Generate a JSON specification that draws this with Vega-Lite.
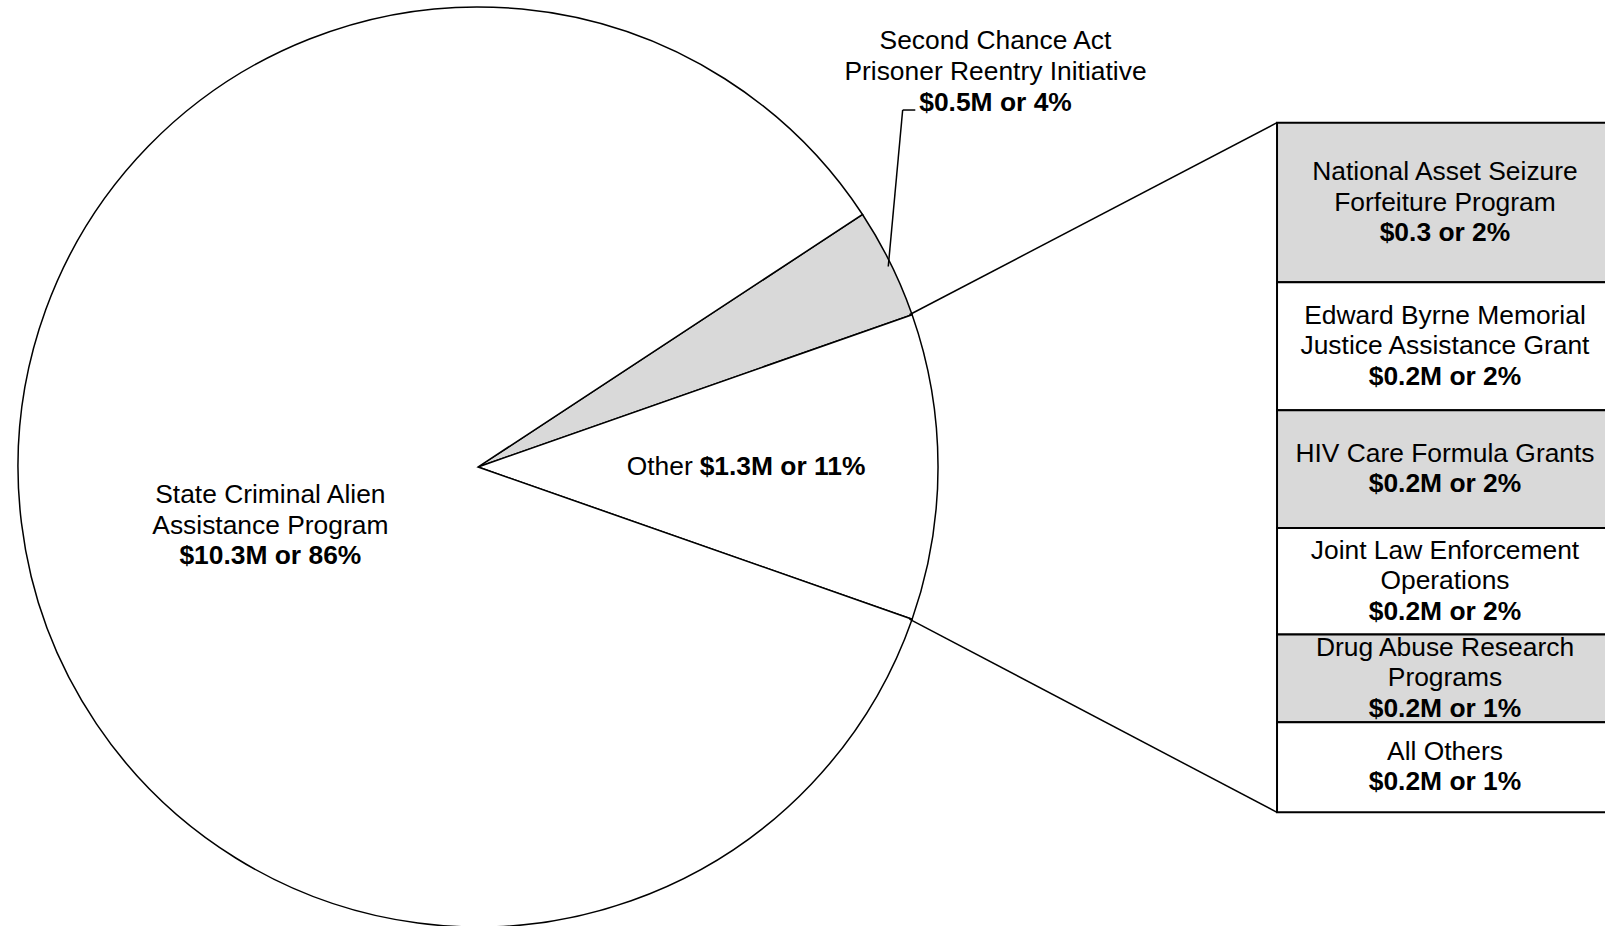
{
  "$schema": "https://vega.github.io/schema/vega-lite/v6.json",
  "width": 1605,
  "height": 926,
  "padding": 0,
  "autosize": {"type": "none"},
  "background": "white",
  "config": {
    "view": {"stroke": null},
    "text": {"font": "Liberation Sans", "fontSize": 26.4, "lineHeight": 30.4, "color": "black"}
  },
  "datasets": {
    "pie": [
      {"rank": 1, "name": "Second Chance Act Prisoner Reentry Initiative", "value": 0.47, "label": "Second Chance Act\nPrisoner Reentry Initiative", "amount": "$0.5M or 4%"},
      {"rank": 2, "name": "Other", "value": 1.3, "label": "Other", "amount": "$1.3M or 11%"},
      {"rank": 3, "name": "State Criminal Alien Assistance Program", "value": 10.34, "label": "State Criminal Alien\nAssistance Program", "amount": "$10.3M or 86%"}
    ],
    "bar": [
      {"rank": 1, "name": "National Asset Seizure Forfeiture Program", "value": 0.301, "label": "National Asset Seizure\nForfeiture Program", "amount": "$0.3 or 2%"},
      {"rank": 2, "name": "Edward Byrne Memorial Justice Assistance Grant", "value": 0.241, "label": "Edward Byrne Memorial\nJustice Assistance Grant", "amount": "$0.2M or 2%"},
      {"rank": 3, "name": "HIV Care Formula Grants", "value": 0.222, "label": "HIV Care Formula Grants", "amount": "$0.2M or 2%"},
      {"rank": 4, "name": "Joint Law Enforcement Operations", "value": 0.201, "label": "Joint Law Enforcement\nOperations", "amount": "$0.2M or 2%"},
      {"rank": 5, "name": "Drug Abuse Research Programs", "value": 0.165, "label": "Drug Abuse Research\nPrograms", "amount": "$0.2M or 1%"},
      {"rank": 6, "name": "All Others", "value": 0.170, "label": "All Others", "amount": "$0.2M or 1%"}
    ]
  },
  "layer": [
    {
      "data": {"name": "pie"},
      "transform": [{"stack": "value", "groupby": [], "sort": [{"field": "rank", "order": "ascending"}], "as": ["t0", "t1"]}],
      "mark": {"type": "arc", "radius": 460, "stroke": "black", "strokeWidth": 1.5},
      "encoding": {
        "x": {"datum": 476, "type": "quantitative", "stack": null, "scale": {"domain": [0, 1605], "nice": false, "zero": false}, "axis": null},
        "y": {"datum": 0.651, "type": "quantitative", "stack": null, "scale": {"domain": [-0.2143, 1.5313], "nice": false, "zero": false}, "axis": null},
        "theta": {"field": "t0", "type": "quantitative", "scale": {"domain": [0, 12.11], "range": [0.9897, 7.27289], "nice": false}},
        "theta2": {"field": "t1"},
        "color": {
          "field": "name", "type": "nominal", "legend": null,
          "scale": {
            "domain": ["Second Chance Act Prisoner Reentry Initiative", "Other", "State Criminal Alien Assistance Program", "National Asset Seizure Forfeiture Program", "Edward Byrne Memorial Justice Assistance Grant", "HIV Care Formula Grants", "Joint Law Enforcement Operations", "Drug Abuse Research Programs", "All Others"],
            "range": ["#d9d9d9", "#ffffff", "#ffffff", "#d9d9d9", "#ffffff", "#d9d9d9", "#ffffff", "#d9d9d9", "#ffffff"]
          }
        }
      }
    },
    {
      "data": {"name": "bar"},
      "mark": {"type": "bar", "orient": "vertical", "stroke": "black", "strokeWidth": 2},
      "encoding": {
        "x": {"datum": 1280, "type": "quantitative", "scale": {"domain": [0, 1605], "nice": false, "zero": false}, "axis": null},
        "x2": {"datum": 1620},
        "y": {"field": "value", "type": "quantitative", "stack": "zero", "scale": {"domain": [-0.2143, 1.5313], "nice": false, "zero": false}, "axis": null},
        "order": {"field": "rank", "sort": "descending"},
        "color": {
          "field": "name", "type": "nominal", "legend": null,
          "scale": {
            "domain": ["Second Chance Act Prisoner Reentry Initiative", "Other", "State Criminal Alien Assistance Program", "National Asset Seizure Forfeiture Program", "Edward Byrne Memorial Justice Assistance Grant", "HIV Care Formula Grants", "Joint Law Enforcement Operations", "Drug Abuse Research Programs", "All Others"],
            "range": ["#d9d9d9", "#ffffff", "#ffffff", "#d9d9d9", "#ffffff", "#d9d9d9", "#ffffff", "#d9d9d9", "#ffffff"]
          }
        }
      }
    },
    {
      "data": {"name": "pie"},
      "transform": [{"filter": "datum.rank == 2"}],
      "mark": {"type": "rule", "stroke": "black", "strokeWidth": 1.5},
      "encoding": {
        "x": {"datum": 910.1, "type": "quantitative", "axis": null},
        "y": {"datum": 0.9379, "type": "quantitative", "axis": null},
        "x2": {"datum": 1280},
        "y2": {"datum": 1.3}
      }
    },
    {
      "data": {"name": "pie"},
      "transform": [{"filter": "datum.rank == 2"}],
      "mark": {"type": "rule", "stroke": "black", "strokeWidth": 1.5},
      "encoding": {
        "x": {"datum": 910.1, "type": "quantitative", "axis": null},
        "y": {"datum": 0.3641, "type": "quantitative", "axis": null},
        "x2": {"datum": 1280},
        "y2": {"datum": 0}
      }
    },
    {
      "data": {"name": "pie"},
      "transform": [{"filter": "datum.rank == 1"}],
      "mark": {"type": "rule", "stroke": "black", "strokeWidth": 1.5},
      "encoding": {
        "x": {"datum": 903.3, "type": "quantitative", "axis": null},
        "y": {"datum": 1.3239, "type": "quantitative", "axis": null},
        "x2": {"datum": 916},
        "y2": {"datum": 1.3239}
      }
    },
    {
      "data": {"name": "pie"},
      "transform": [{"filter": "datum.rank == 1"}],
      "mark": {"type": "rule", "stroke": "black", "strokeWidth": 1.5},
      "encoding": {
        "x": {"datum": 903.3, "type": "quantitative", "axis": null},
        "y": {"datum": 1.3239, "type": "quantitative", "axis": null},
        "x2": {"datum": 888.8},
        "y2": {"datum": 1.0289}
      }
    },
    {
      "data": {"name": "bar"},
      "mark": {"type": "text", "align": "center", "baseline": "middle", "lineBreak": "\n", "dy": -30.4},
      "encoding": {
        "x": {"datum": 1449, "type": "quantitative", "axis": null},
        "y": {"field": "value", "type": "quantitative", "stack": "zero", "bandPosition": 0.5, "axis": null},
        "detail": {"field": "name"},
        "order": {"field": "rank", "sort": "descending"},
        "text": {"condition": {"test": "indexof(datum.label, '\\n') >= 0", "field": "label"}, "value": ""}
      }
    },
    {
      "data": {"name": "bar"},
      "mark": {"type": "text", "align": "center", "baseline": "middle", "dy": -15.2},
      "encoding": {
        "x": {"datum": 1449, "type": "quantitative", "axis": null},
        "y": {"field": "value", "type": "quantitative", "stack": "zero", "bandPosition": 0.5, "axis": null},
        "detail": {"field": "name"},
        "order": {"field": "rank", "sort": "descending"},
        "text": {"condition": {"test": "indexof(datum.label, '\\n') < 0", "field": "label"}, "value": ""}
      }
    },
    {
      "data": {"name": "bar"},
      "mark": {"type": "text", "align": "center", "baseline": "middle", "fontWeight": "bold", "dy": 30.4},
      "encoding": {
        "x": {"datum": 1449, "type": "quantitative", "axis": null},
        "y": {"field": "value", "type": "quantitative", "stack": "zero", "bandPosition": 0.5, "axis": null},
        "detail": {"field": "name"},
        "order": {"field": "rank", "sort": "descending"},
        "text": {"condition": {"test": "indexof(datum.label, '\\n') >= 0", "field": "amount"}, "value": ""}
      }
    },
    {
      "data": {"name": "bar"},
      "mark": {"type": "text", "align": "center", "baseline": "middle", "fontWeight": "bold", "dy": 15.2},
      "encoding": {
        "x": {"datum": 1449, "type": "quantitative", "axis": null},
        "y": {"field": "value", "type": "quantitative", "stack": "zero", "bandPosition": 0.5, "axis": null},
        "detail": {"field": "name"},
        "order": {"field": "rank", "sort": "descending"},
        "text": {"condition": {"test": "indexof(datum.label, '\\n') < 0", "field": "amount"}, "value": ""}
      }
    },
    {
      "data": {"name": "pie"},
      "transform": [{"filter": "datum.rank == 3"}],
      "mark": {"type": "text", "align": "center", "baseline": "alphabetic", "lineBreak": "\n"},
      "encoding": {
        "x": {"datum": 267, "type": "quantitative", "axis": null},
        "y": {"datum": 0.5825, "type": "quantitative", "axis": null},
        "text": {"field": "label"}
      }
    },
    {
      "data": {"name": "pie"},
      "transform": [{"filter": "datum.rank == 3"}],
      "mark": {"type": "text", "align": "center", "baseline": "alphabetic", "fontWeight": "bold"},
      "encoding": {
        "x": {"datum": 267, "type": "quantitative", "axis": null},
        "y": {"datum": 0.4681, "type": "quantitative", "axis": null},
        "text": {"field": "amount"}
      }
    },
    {
      "data": {"name": "pie"},
      "transform": [{"filter": "datum.rank == 1"}],
      "mark": {"type": "text", "align": "center", "baseline": "alphabetic", "lineBreak": "\n"},
      "encoding": {
        "x": {"datum": 996.7, "type": "quantitative", "axis": null},
        "y": {"datum": 1.4384, "type": "quantitative", "axis": null},
        "text": {"field": "label"}
      }
    },
    {
      "data": {"name": "pie"},
      "transform": [{"filter": "datum.rank == 1"}],
      "mark": {"type": "text", "align": "center", "baseline": "alphabetic", "fontWeight": "bold"},
      "encoding": {
        "x": {"datum": 996.7, "type": "quantitative", "axis": null},
        "y": {"datum": 1.3226, "type": "quantitative", "axis": null},
        "text": {"field": "amount"}
      }
    },
    {
      "data": {"name": "pie"},
      "transform": [{"filter": "datum.rank == 2"}],
      "mark": {"type": "text", "align": "right", "baseline": "alphabetic"},
      "encoding": {
        "x": {"datum": 692, "type": "quantitative", "axis": null},
        "y": {"datum": 0.6359, "type": "quantitative", "axis": null},
        "text": {"field": "label"}
      }
    },
    {
      "data": {"name": "pie"},
      "transform": [{"filter": "datum.rank == 2"}],
      "mark": {"type": "text", "align": "left", "baseline": "alphabetic", "fontWeight": "bold"},
      "encoding": {
        "x": {"datum": 699, "type": "quantitative", "axis": null},
        "y": {"datum": 0.6359, "type": "quantitative", "axis": null},
        "text": {"field": "amount"}
      }
    }
  ]
}
